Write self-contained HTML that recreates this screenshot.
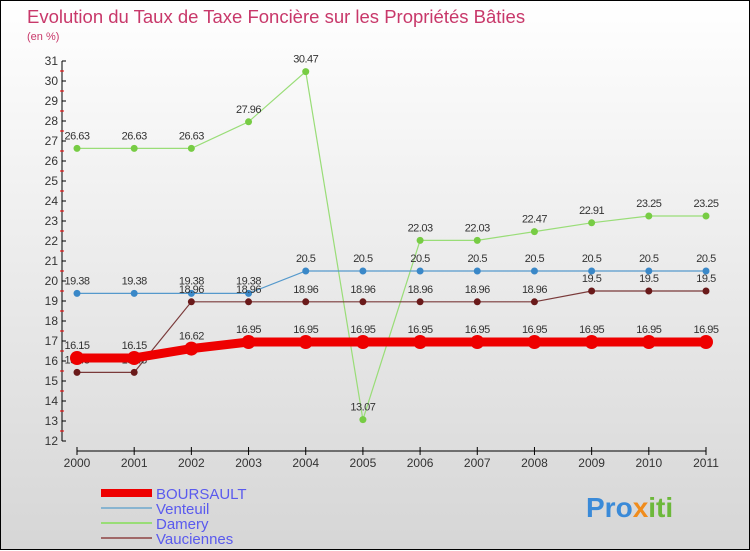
<!DOCTYPE html>
<html><head><meta charset="utf-8"><style>
body{margin:0}
#c{width:748px;height:548px;border:1px solid #000;background:linear-gradient(#fff,#d6d6d6);position:relative;font-family:"Liberation Sans",sans-serif}
svg{position:absolute;left:0;top:0}
</style></head><body>
<div id="c">
<svg id="s" width="750" height="550">
<text x="26" y="22" font-size="18.5" fill="#c8386a">Evolution du Taux de Taxe Foncière sur les Propriétés Bâties</text>
<text x="26" y="39" font-size="11" fill="#c8386a">(en %)</text>
<text x="585" y="516" font-size="28" font-weight="bold" fill="#3a8ad8">Pro<tspan fill="#f08c1c">x</tspan><tspan fill="#6cb83a">iti</tspan></text>
</svg>
</div>
<script>
const years=[2000,2001,2002,2003,2004,2005,2006,2007,2008,2009,2010,2011];
const boursault=[16.15,16.15,16.62,16.95,16.95,16.95,16.95,16.95,16.95,16.95,16.95,16.95];
const venteuil=[19.38,19.38,19.38,19.38,20.5,20.5,20.5,20.5,20.5,20.5,20.5,20.5];
const damery=[26.63,26.63,26.63,27.96,30.47,13.07,22.03,22.03,22.47,22.91,23.25,23.25];
const vauciennes=[15.43,15.43,18.96,18.96,18.96,18.96,18.96,18.96,18.96,19.5,19.5,19.5];
const yTicks=[12,13,14,15,16,17,18,19,20,21,22,23,24,25,26,27,28,29,30,31];
const NS='http://www.w3.org/2000/svg',s=document.getElementById('s');
const xS=i=>76+i*(705-76)/(years.length-1);
const yS=v=>440-(v-12)*20;
function mk(t,a,p){const e=document.createElementNS(NS,t);for(const k in a)e.setAttribute(k,a[k]);(p||s).appendChild(e);return e;}
let ya=mk('line',{x1:61,y1:60,x2:61,y2:440,stroke:'#000'});


yTicks.forEach(v=>{mk('line',{x1:61,x2:65,y1:yS(v),y2:yS(v),stroke:'#000'});
 if(v<31)mk('line',{x1:59,x2:63,y1:yS(v+0.5),y2:yS(v+0.5),stroke:'#e00'});
 const t=mk('text',{x:57,y:yS(v)+4,'text-anchor':'end','font-size':12,fill:'#333'});t.textContent=v;
 
 });
let xa=mk('line',{x1:76,y1:450,x2:705,y2:450,stroke:'#000'});


years.forEach((y,i)=>{mk('line',{x1:xS(i),x2:xS(i),y1:446,y2:454,stroke:'#000'});
 const t=mk('text',{x:xS(i),y:466,'text-anchor':'middle','font-size':12,fill:'#333'});t.textContent=y;
 
 });
function series(d,col,w,r,name,dc){
 const g=mk('g',{});
 
 
 mk('polyline',{points:d.map((v,i)=>xS(i)+','+yS(v)).join(' '),fill:'none',stroke:col,'stroke-width':w},g);
 d.forEach((v,i)=>{const c=mk('circle',{cx:xS(i),cy:yS(v),r:r,fill:dc||col},g);
  
  
  const t=mk('text',{x:xS(i),y:yS(v)-9,'text-anchor':'middle','font-size':11,fill:'#333','letter-spacing':'-0.5'},g);t.textContent=v;
  
  });
}
series(damery,'#99dd77',1.2,3.5,'damery','#77cc44');
series(venteuil,'#5599cc',1.2,3.5,'venteuil','#3a88c8');
series(vauciennes,'#7a3a3a',1.2,3.5,'vauciennes','#6a1a1a');
series(boursault,'#ee0000',9,7,'boursault');
const leg=[['BOURSAULT','#ee0000',8],['Venteuil','#88b4d0',2],['Damery','#99dd77',2],['Vauciennes','#a06868',2]];
leg.forEach((l,i)=>{const y=492+i*15;
 const g=mk('g',{});
 
 
 mk('line',{x1:100,x2:151,y1:y,y2:y,stroke:l[1],'stroke-width':l[2]},g);
 const t=mk('text',{x:155,y:y+6,'font-size':15,fill:'#5a5aee'},g);t.textContent=l[0];});
</script>
</body></html>
